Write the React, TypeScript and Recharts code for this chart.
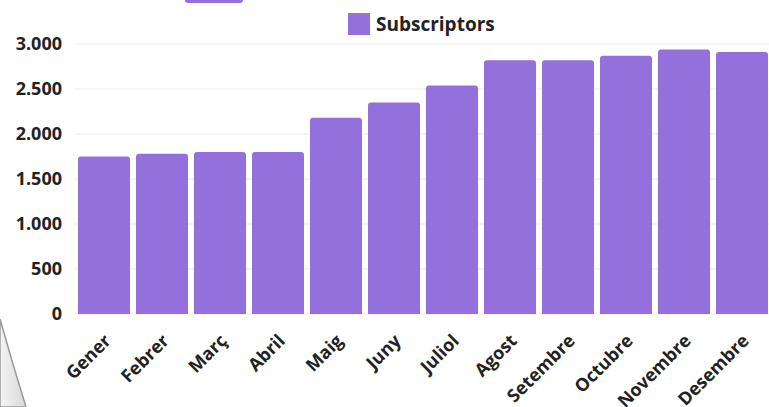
import { BarChart, Bar, XAxis, YAxis, CartesianGrid, Legend } from 'recharts';

const months = ['Gener', 'Febrer', 'Març', 'Abril', 'Maig', 'Juny', 'Juliol', 'Agost', 'Setembre', 'Octubre', 'Novembre', 'Desembre'];
const subscriptors = [1750, 1780, 1800, 1800, 2180, 2350, 2540, 2820, 2820, 2870, 2940, 2910];
const yTicks = [0, 500, 1000, 1500, 2000, 2500, 3000];

const data = months.map((m, i) => ({ month: m, subscriptors: subscriptors[i] }));

const purple = '#9370DB';
const font = '"Open Sans", sans-serif';

const formatThousands = (v: number) => v.toLocaleString('de-DE');

function LegendContent() {
    return (
        <div style={{ display: 'flex', alignItems: 'center', fontFamily: font }}>
            <span style={{ width: 22, height: 22, background: purple, display: 'inline-block', marginRight: 6 }} />
            <span style={{ fontWeight: 700, fontSize: 19, color: '#222' }}>Subscriptors</span>
        </div>
    );
}

export default function App() {
    return (
        <div style={{ position: 'fixed', left: 0, top: 0, width: 769, height: 407, background: '#fff', overflow: 'hidden' }}>
            {/* bits of the photographed page around the chart */}
            <div style={{ position: 'absolute', left: 185, top: -3, width: 58, height: 6, borderRadius: 3, background: purple }} />
            <svg width={60} height={110} style={{ position: 'absolute', left: 0, top: 297 }}>
                <defs>
                    <linearGradient id="curl" x1="0" y1="0" x2="1" y2="0">
                        <stop offset="0%" stopColor="#f4f4f4" />
                        <stop offset="100%" stopColor="#d8d8d8" />
                    </linearGradient>
                </defs>
                <path d="M0,22 Q12,65 26,110 L0,110 Z" fill="url(#curl)" stroke="#9a9a9a" strokeWidth={1.5} />
            </svg>
            <BarChart
                width={775}
                height={407}
                data={data}
                margin={{ top: 44, right: 4, left: 0, bottom: 0 }}
                barCategoryGap={3}
                style={{ position: 'absolute', left: 0, top: 0 }}
            >
                <CartesianGrid vertical={false} stroke="#ebebeb" />
                <XAxis
                    dataKey="month"
                    height={93}
                    axisLine={false}
                    tickLine={false}
                    interval={0}
                    angle={-45}
                    textAnchor="end"
                    tick={{ fill: '#222', fontSize: 18, fontWeight: 700, fontFamily: font }}
                    dx={-1}
                    dy={11}
                />
                <YAxis
                    width={75}
                    domain={[0, 3000]}
                    ticks={yTicks}
                    axisLine={false}
                    tickLine={false}
                    tickMargin={7}
                    tickFormatter={formatThousands}
                    tick={{ fill: '#222', fontSize: 18, fontWeight: 700, fontFamily: font }}
                />
                <Legend
                    verticalAlign="middle"
                    align="center"
                    wrapperStyle={{ top: 11, left: 348, width: 'auto' }}
                    content={<LegendContent />}
                />
                <Bar
                    dataKey="subscriptors"
                    name="Subscriptors"
                    fill={purple}
                    radius={[3, 3, 0, 0]}
                    isAnimationActive={false}
                />
            </BarChart>
        </div>
    );
}
